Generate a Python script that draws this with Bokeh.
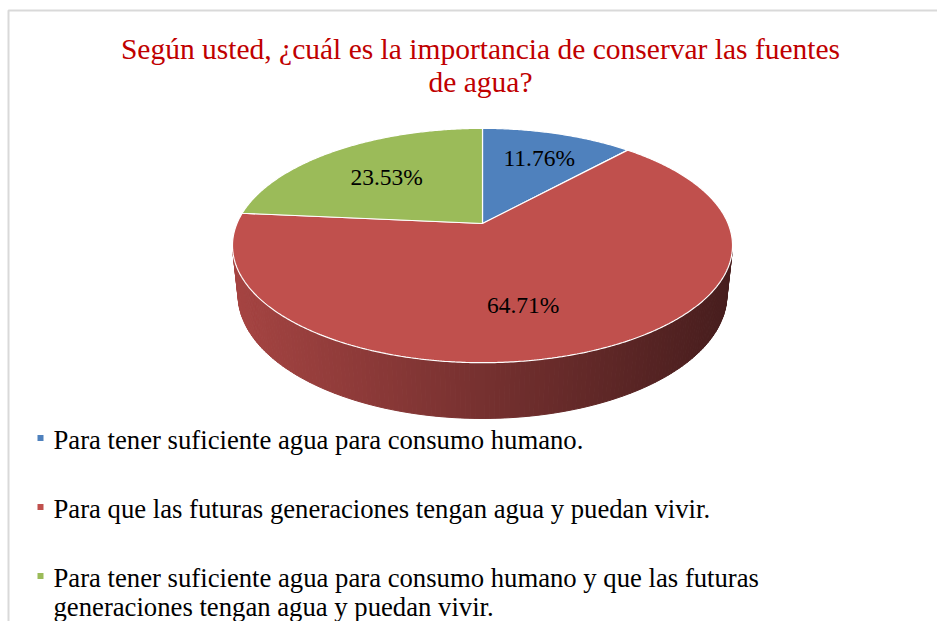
import numpy as np
from bokeh.plotting import figure
from bokeh.models import Range1d
from bokeh.core.properties import value
from bokeh.embed import file_html
from bokeh.resources import INLINE

# ---------------- data ----------------
title_lines = ["Según usted, ¿cuál es la importancia de conservar las fuentes",
               "de agua?"]
categories = [
    "Para tener suficiente agua para consumo humano.",
    "Para que las futuras generaciones tengan agua y puedan vivir.",
    "Para tener suficiente agua para consumo humano y que las futuras\ngeneraciones tengan agua y puedan vivir.",
]
percentages = [11.76, 64.71, 23.53]
pct_labels = ["11.76%", "64.71%", "23.53%"]
colors = ["#4F81BD", "#C0504D", "#9BBB59"]

# ---------------- style / geometry ----------------
W, H = 937, 621
FONT = value("Liberation Serif")
CX, CY = 482.0, 223.0             # projected pie centre (page px)
FOC = 1160.0                      # focal length
ALPHA = np.radians(27.4)          # view elevation
U = 0.2117                        # radius / camera distance
V = 0.0482                        # thickness / camera distance
LABEL_R = [0.72, 0.64, 0.63]
LABEL_DPHI = [0.0, 8.0, 0.0]
SIDE_LIGHT = np.array([165, 68, 66])
SIDE_DARK = np.array([72, 30, 30])


def project(phi_deg, r=1.0, depth=0.0):
    phi = np.radians(phi_deg)
    X = r * U * np.sin(phi)
    Z = r * U * np.cos(phi)
    Y = -depth * V
    yp = Y * np.cos(ALPHA) + Z * np.sin(ALPHA)
    zp = 1 + Z * np.cos(ALPHA) - Y * np.sin(ALPHA)
    return CX + FOC * X / zp, CY - FOC * yp / zp


p = figure(width=W, height=H, output_backend="svg", toolbar_location=None,
           x_range=Range1d(0, W), y_range=Range1d(H, 0),
           x_axis_type=None, y_axis_type=None, min_border=0)
p.grid.visible = False
p.outline_line_color = None
p.background_fill_color = "white"
p.border_fill_color = "white"

# ---- side wall (front, visible part) ----
total = sum(percentages)
angles = np.cumsum([0] + [v / total * 360 for v in percentages])
beta = np.degrees(np.arccos(U / np.cos(ALPHA)))
phis = np.linspace(180 - beta, 180 + beta, 160)
xs_side, ys_side, c_side = [], [], []
xmin, xmax = project(270)[0], project(90)[0]
for a, b in zip(phis[:-1], phis[1:]):
    tx1, ty1 = project(a)
    tx2, ty2 = project(b)
    bx1, by1 = project(a, depth=1)
    bx2, by2 = project(b, depth=1)
    xs_side.append([tx1, tx2, bx2, bx1])
    ys_side.append([ty1, ty2, by2, by1])
    t = np.clip(((tx1 + tx2) / 2 - xmin) / (xmax - xmin), 0, 1)
    rgb = (SIDE_LIGHT * (1 - t) + SIDE_DARK * t).astype(int)
    c_side.append("#%02x%02x%02x" % tuple(rgb))
p.patches(xs_side, ys_side, fill_color=c_side, line_color=c_side, line_width=1)

# ---- top face slices ----
xs_top, ys_top = [], []
for s, e in zip(angles[:-1], angles[1:]):
    ph = np.linspace(s, e, max(int(e - s), 2) * 2)
    rx, ry = project(ph)
    xs_top.append([CX] + list(rx))
    ys_top.append([CY] + list(ry))
p.patches(xs_top, ys_top, fill_color=colors, line_color="white", line_width=1.2)

# ---- data labels ----
lx, ly = [], []
for i, (s, e) in enumerate(zip(angles[:-1], angles[1:])):
    x, y = project((s + e) / 2 + LABEL_DPHI[i], r=LABEL_R[i])
    lx.append(x)
    ly.append(y + 1.5)
p.text(lx, ly, text=pct_labels, text_font=FONT, text_font_size="23.5px",
       text_align="center", text_baseline="middle", text_color="black")

# ---- title ----
p.text([480, 480], [48, 81], text=title_lines, text_font=FONT,
       text_font_size="29.5px", text_align="center", text_baseline="middle",
       text_color="#C00000")

# ---- legend ----
tx, ty, tt = [], [], []
for i, cat in enumerate(categories):
    base = 439 + i * 69
    for j, line in enumerate(cat.split("\n")):
        tx.append(53)
        ty.append(base + j * 29)
        tt.append(line)
p.scatter([40] * 3, [437.5 + i * 69 for i in range(3)], marker="square",
          size=6, fill_color=colors, line_color=None)
p.text(tx, ty, text=tt, text_font=FONT, text_font_size="26.7px",
       text_align="left", text_baseline="middle", text_color="black")

# ---- frame of the chart area ----
p.line([8, 8, W], [H, 10, 10], line_color="#D9D9D9", line_width=2)

open("out.html", "w").write(file_html(p, INLINE))
